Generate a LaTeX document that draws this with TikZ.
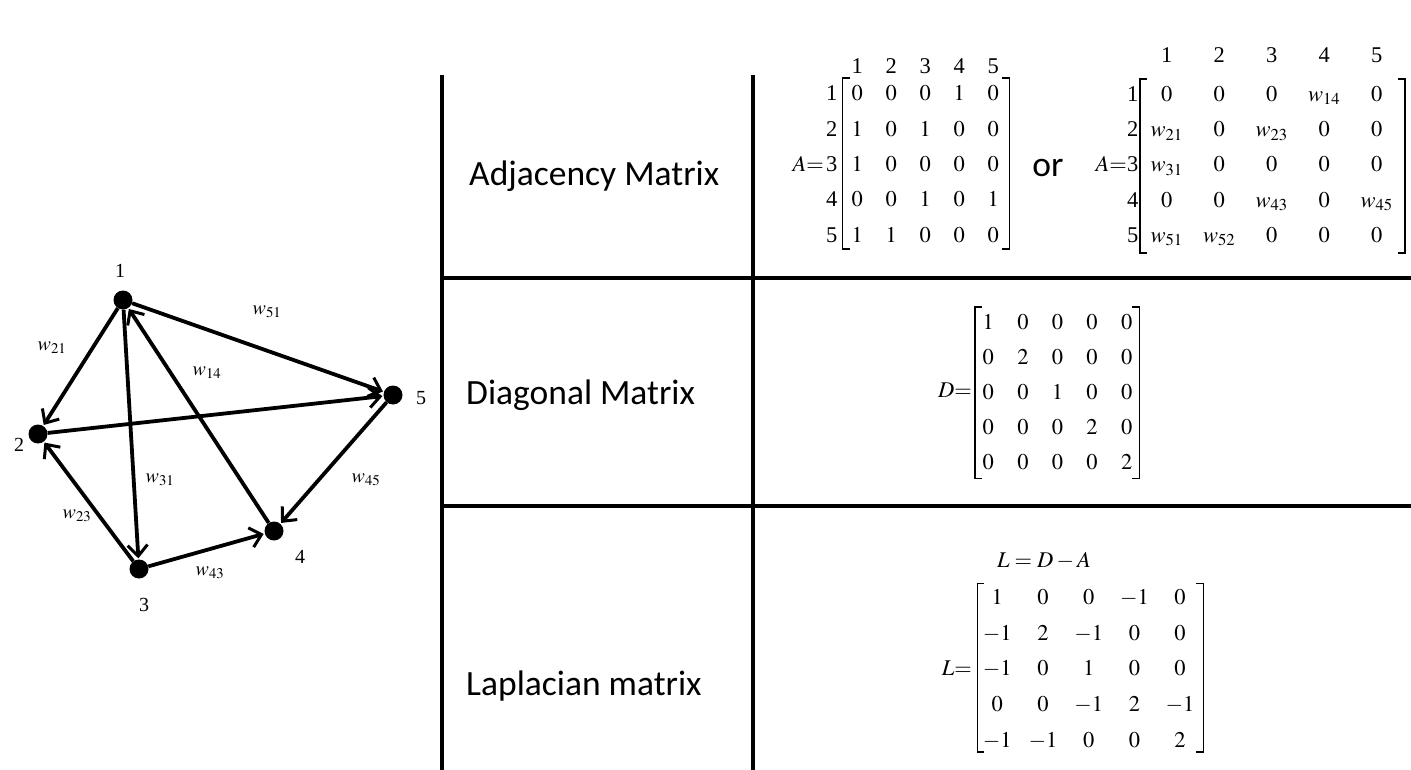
\documentclass[tikz,border=0pt]{standalone}
\usepackage{mathptmx}
\usepackage{fontspec}
\setmainfont{Liberation Serif}
\newfontfamily\labfont{Carlito}
\usetikzlibrary{arrows.meta}
\begin{document}
\begin{tikzpicture}[x=1pt,y=-1pt,
  tbl/.style={line width=4pt},
  brk/.style={line width=1.6pt},
  vtx/.style={circle,fill=black,minimum size=19pt,inner sep=0pt},
  edge/.style={line width=3.8pt,-{Straight Barb[length=11pt,width=20pt,line width=3pt]},shorten >=1pt},
  glab/.style={inner sep=0pt,font=\fontsize{20}{22}\selectfont},
  rowlab/.style={font=\labfont\fontsize{35.5}{40}\selectfont,anchor=base west,inner sep=0pt},
  ent/.style={anchor=base,inner sep=0pt,font=\fontsize{22.5}{26}\selectfont},
  hdr/.style={anchor=base,inner sep=0pt,font=\fontsize{22.5}{26}\selectfont}]
\useasboundingbox (0,0) rectangle (1411,770);

% table lines
\draw[tbl] (442,75) -- (442,770);
\draw[tbl] (753,75) -- (753,770);
\draw[tbl] (442,278) -- (1411,278);
\draw[tbl] (442,506) -- (1411,506);

% row titles
\node[rowlab] (tA) at (469,186) {Adjacency Matrix};
\node[rowlab] (tD) at (466,404) {Diagonal Matrix};
\node[rowlab] (tL) at (466,695) {Laplacian matrix};

% graph
\node[vtx] (n1) at (123,300) {};
\node[vtx] (n2) at (38,434) {};
\node[vtx] (n3) at (139,569) {};
\node[vtx] (n4) at (274,531) {};
\node[vtx] (n5) at (393,395) {};
\draw[edge] (n1) -- (n2);
\draw[edge] (n1) -- (n3);
\draw[edge] (n4) -- (n1);
\draw[edge] (n1) -- (n5);
\draw[edge] (n2) -- (n5);
\draw[edge] (n3) -- (n2);
\draw[edge] (n3) -- (n4);
\draw[edge] (n5) -- (n4);
\node[glab] (g1) at (120,271) {1};
\node[glab] (g2) at (19,445) {2};
\node[glab] (g3) at (144,605) {3};
\node[glab] (g4) at (300,557) {4};
\node[glab] (g5) at (421,398) {5};
\node[glab] (w51) at (267,312) {$w_{51}$};
\node[glab] (w21) at (52,348) {$w_{21}$};
\node[glab] (w14) at (207,373) {$w_{14}$};
\node[glab] (w31) at (160,480) {$w_{31}$};
\node[glab] (w23) at (77,516) {$w_{23}$};
\node[glab] (w45) at (366,480) {$w_{45}$};
\node[glab] (w43) at (210,573) {$w_{43}$};

% adjacency matrix 1
\foreach \c in {1,...,5}{
  \node[hdr] (ah-\c) at ({857.3+34*(\c-1)},73.5) {\c};
  \node[hdr] (ar-\c) at (831.7,{93.3+35.4*(\c-1)+7.5}) {\c};
}
\foreach \row [count=\r] in {{0,0,0,1,0},{1,0,1,0,0},{1,0,0,0,0},{0,0,1,0,1},{1,1,0,0,0}}{
  \foreach \v [count=\c] in \row {
    \node[ent] (a-\r-\c) at ({857.3+34*(\c-1)},{93.3+35.4*(\r-1)+7.5}) {$\v$};
  }
}
\node[ent,anchor=base east] (aeq) at (824,171.5) {$A{=}$};
\draw[brk] (850,78.3) -- (842.3,78.3) -- (842.3,249.3) -- (850,249.3);
\draw[brk] (1002,78.3) -- (1009.3,78.3) -- (1009.3,249.3) -- (1002,249.3);

\node[rowlab,anchor=base] (or) at (1048,177) {or};

% adjacency matrix 2
\foreach \c in {1,...,5}{
  \node[hdr] (bh-\c) at ({1166.7+52.5*(\c-1)},62.5) {\c};
  \node[hdr] (br-\c) at (1132.7,{94+35.2*(\c-1)+7.5}) {\c};
}
\foreach \row [count=\r] in {{0,0,0,w_{14},0},{w_{21},0,w_{23},0,0},{w_{31},0,0,0,0},{0,0,w_{43},0,w_{45}},{w_{51},w_{52},0,0,0}}{
  \foreach \v [count=\c] in \row {
    \node[ent] (b-\r-\c) at ({1166.7+52.5*(\c-1)},{94+35.2*(\r-1)+7.5}) {$\v$};
  }
}
\node[ent,anchor=base east] (beq) at (1127,171.5) {$A{=}$};
\draw[brk] (1147,79) -- (1140,79) -- (1140,253) -- (1147,253);
\draw[brk] (1398,79) -- (1405,79) -- (1405,253) -- (1398,253);

% diagonal matrix
\foreach \row [count=\r] in {{1,0,0,0,0},{0,2,0,0,0},{0,0,1,0,0},{0,0,0,2,0},{0,0,0,0,2}}{
  \foreach \v [count=\c] in \row {
    \node[ent] (d-\r-\c) at ({988.3+34.6*(\c-1)},{321.7+35*(\r-1)+7.5}) {$\v$};
  }
}
\node[ent,anchor=base east] (deq) at (972,397.5) {$D{=}$};
\draw[brk] (982,306.7) -- (975,306.7) -- (975,478.3) -- (982,478.3);
\draw[brk] (1132,306.7) -- (1139.3,306.7) -- (1139.3,478.3) -- (1132,478.3);

% laplacian
\node[ent] (leqn) at (1044,567.5) {$L=D-A$};
\foreach \row [count=\r] in {{1,0,0,-1,0},{-1,2,-1,0,0},{-1,0,1,0,0},{0,0,-1,2,-1},{-1,-1,0,0,2}}{
  \foreach \v [count=\c] in \row {
    \node[ent] (l-\r-\c) at ({997.3+45.7*(\c-1)},{596.7+35.8*(\r-1)+7.5}) {$\v$};
  }
}
\node[ent,anchor=base east] (leq) at (972,675.5) {$L{=}$};
\draw[brk] (984,583.3) -- (977.3,583.3) -- (977.3,751.7) -- (984,751.7);
\draw[brk] (1196,583.3) -- (1203.3,583.3) -- (1203.3,751.7) -- (1196,751.7);
\end{tikzpicture}
\end{document}
